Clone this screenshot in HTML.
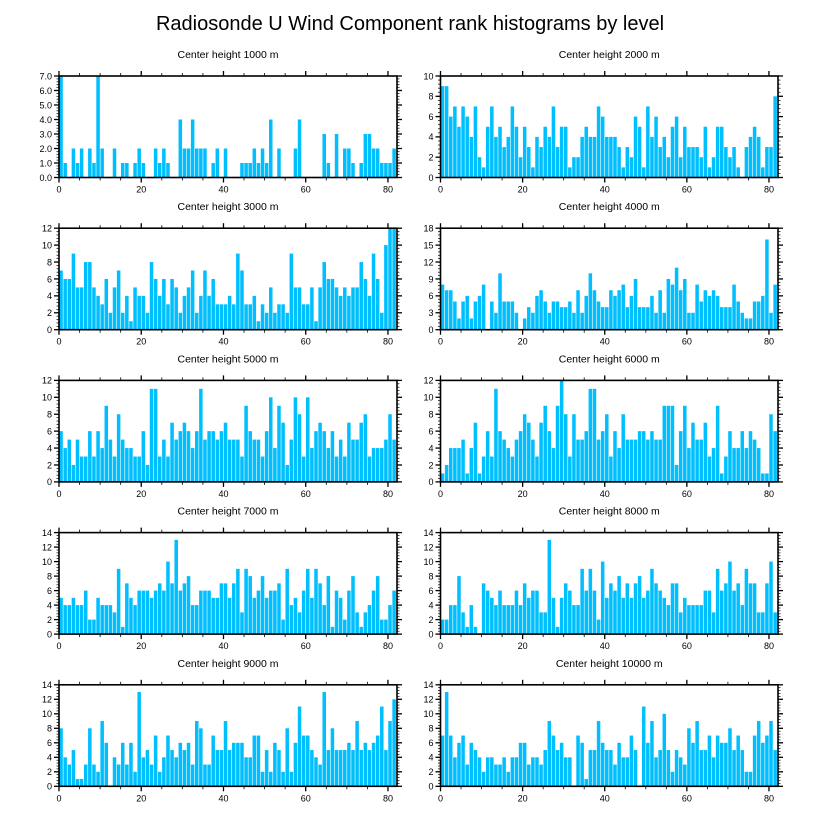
<!DOCTYPE html>
<html><head><meta charset="utf-8"><style>
html,body{margin:0;padding:0;background:#fff;}
svg{display:block;font-family:"Liberation Sans",Arial,sans-serif;}
</style></head>
<body>
<svg id="chart" width="818" height="824" viewBox="0 0 818 824" xmlns="http://www.w3.org/2000/svg">
<text x="410" y="30" text-anchor="middle" font-size="20">Radiosonde U Wind Component rank histograms by level</text>
</svg>
<script>
const levels = [1000,2000,3000,4000,5000,6000,7000,8000,9000,10000];
const yMaxes = [7,10,12,18,12,12,14,14,14,14];
const yTickSteps = [1,2,2,3,2,2,2,2,2,2];
const xTickLabels = [0,20,40,60,80];
const counts1000 = [7,1,0,2,1,2,0,2,1,7,2,0,0,2,0,1,1,0,1,2,1,0,0,2,1,2,1,0,0,4,2,2,4,2,2,2,0,1,2,0,2,0,0,0,1,1,1,2,1,2,1,4,0,2,0,0,0,2,4,0,0,0,0,0,3,1,0,3,0,2,2,1,0,1,3,3,2,2,1,1,1,2];
const counts2000 = [9,9,6,7,5,7,6,4,7,2,1,5,7,4,5,3,4,7,5,2,5,3,1,4,3,5,4,7,3,5,5,1,2,2,4,5,4,4,7,6,4,4,4,3,1,3,2,6,5,1,7,4,6,3,4,2,5,6,2,5,3,3,3,2,5,1,2,5,5,3,2,3,1,0,3,4,5,4,1,3,3,8];
const counts3000 = [7,6,6,9,5,5,8,8,5,4,3,6,2,5,7,2,4,1,5,4,4,2,8,6,4,6,3,6,5,2,4,5,7,2,4,7,4,6,3,3,3,4,3,9,7,3,3,4,1,3,2,5,2,3,3,2,9,5,5,3,3,5,1,5,8,6,6,5,4,5,4,5,5,8,6,4,9,6,2,10,12,12];
const counts4000 = [8,7,7,5,2,5,6,2,5,6,8,0,5,3,10,5,5,5,3,0,2,4,3,6,7,5,3,5,5,4,4,5,3,7,3,6,10,7,5,4,4,7,6,7,8,4,6,9,4,4,4,6,3,7,3,9,8,11,7,9,3,3,8,5,7,6,7,6,4,4,4,8,5,3,2,2,5,5,6,16,3,8];
const counts5000 = [6,4,5,2,5,3,3,6,3,6,4,9,5,3,8,5,4,4,3,3,6,2,11,11,3,5,3,7,5,6,7,6,4,6,11,5,6,6,5,6,7,5,5,5,3,9,6,5,5,3,6,10,4,9,7,2,5,10,8,3,10,4,6,7,6,4,6,3,5,3,7,5,5,7,8,3,4,4,4,5,8,5];
const counts6000 = [1,2,4,4,4,5,1,4,7,1,3,6,3,11,6,5,4,3,5,6,8,7,5,3,7,9,6,4,9,12,8,3,8,5,5,6,11,11,5,6,8,3,6,4,8,5,5,5,6,6,5,6,5,5,9,9,9,2,6,9,4,7,5,5,7,3,4,9,1,3,6,4,4,6,4,6,5,4,1,1,8,6];
const counts7000 = [5,4,4,5,4,4,6,2,2,5,4,4,4,3,9,1,7,5,4,6,6,6,5,6,7,6,10,7,13,6,7,8,4,4,6,6,6,5,5,7,7,5,7,9,3,9,8,5,6,8,5,6,6,7,2,9,4,5,3,6,9,5,9,7,4,8,1,6,5,2,6,8,3,1,3,4,6,8,2,2,4,6];
const counts8000 = [2,2,4,4,8,3,1,4,1,0,7,6,5,4,6,4,4,4,6,4,7,5,6,6,3,3,13,5,1,5,7,6,4,4,9,6,9,6,2,10,5,7,6,8,5,7,5,7,8,5,6,9,7,6,5,4,7,7,3,5,4,4,4,4,6,6,3,9,6,7,10,6,7,4,9,7,7,3,3,7,10,3];
const counts9000 = [8,4,3,5,1,1,3,8,3,2,9,6,0,4,3,6,3,6,2,13,4,5,3,7,2,4,7,5,4,6,5,6,3,9,8,3,3,7,5,5,9,5,6,6,6,4,4,7,7,2,5,2,6,5,2,8,2,6,11,7,7,5,4,3,13,5,8,5,5,5,6,5,9,5,6,5,6,7,11,5,9,12];
const counts10000 = [7,13,7,4,6,7,3,6,5,4,2,4,4,3,3,4,2,4,4,6,6,3,4,4,3,5,9,7,5,6,4,4,0,7,6,1,5,5,9,6,5,5,3,6,4,4,7,5,0,11,6,9,4,5,10,5,2,5,4,3,8,6,9,5,5,7,4,7,6,6,8,5,7,5,2,2,7,9,6,7,9,5];
const allCounts = [counts1000,counts2000,counts3000,counts4000,counts5000,counts6000,counts7000,counts8000,counts9000,counts10000];

const svg = document.getElementById('chart');
const NS = 'http://www.w3.org/2000/svg';
function mk(tag, attrs, parent){
  const e = document.createElementNS(NS, tag);
  for (const k in attrs) e.setAttribute(k, attrs[k]);
  (parent||svg).appendChild(e);
  return e;
}
const X_MAX = 82.2;
levels.forEach((lev, p) => {
  const col = p % 2, row = Math.floor(p / 2);
  const L = col ? 440.5 : 59, R = col ? 778 : 397;
  const T = 76 + row * 152.2, B = 177.5 + row * 152.2;
  const xs = v => L + (v / X_MAX) * (R - L);
  const ys = v => B - (v / yMaxes[p]) * (B - T);
  const g = mk('g', {});
  
  
  const title = mk('text', {x: (L + R) / 2, y: T - 18, 'text-anchor': 'middle', 'font-size': 10.5}, g);
  
  
  title.textContent = 'Center height ' + lev + ' m';
  const data = allCounts[p];
  data.forEach((v, i) => {
    if (v <= 0) return;
    const r = mk('rect', {x: xs(i) + 0.3, y: ys(v), width: xs(i + 1) - xs(i) - 0.6, height: B - ys(v), fill: '#00BFFF'}, g);
    
    
  });
  // frame
  const f = mk('rect', {x: L, y: T, width: R - L, height: B - T, fill: 'none', stroke: '#000', 'stroke-width': 1.6}, g);
  
  
  // x ticks
  for (let v = 0; v <= 80; v += 5) {
    const major = v % 20 === 0, len = major ? 5 : 3;
    mk('line', {x1: xs(v), x2: xs(v), y1: B, y2: B + len, stroke: '#000', 'stroke-width': major ? 1.3 : 0.8}, g);
    mk('line', {x1: xs(v), x2: xs(v), y1: T, y2: T - len, stroke: '#000', 'stroke-width': major ? 1.3 : 0.8}, g);
  }
  xTickLabels.forEach(v => {
    const t = mk('text', {x: xs(v), y: B + 15, 'text-anchor': 'middle', 'font-size': 9}, g);
    
    
    t.textContent = v;
  });
  // y ticks
  const st = yTickSteps[p], minor = st / 5;
  for (let k = 0; k <= Math.round(yMaxes[p] / minor); k++) {
    const v = k * minor, isMajor = k % 5 === 0, len = isMajor ? 5 : 2.5;
    mk('line', {x1: L, x2: L - len, y1: ys(v), y2: ys(v), stroke: '#000', 'stroke-width': isMajor ? 1.3 : 0.7}, g);
    mk('line', {x1: R, x2: R + len, y1: ys(v), y2: ys(v), stroke: '#000', 'stroke-width': isMajor ? 1.3 : 0.7}, g);
    if (isMajor) {
      const t = mk('text', {x: L - 7, y: ys(v) + 3.3, 'text-anchor': 'end', 'font-size': 9}, g);
      
      
      t.textContent = p === 0 ? v.toFixed(1) : Math.round(v);
    }
  }
});
</script>
</body></html>
